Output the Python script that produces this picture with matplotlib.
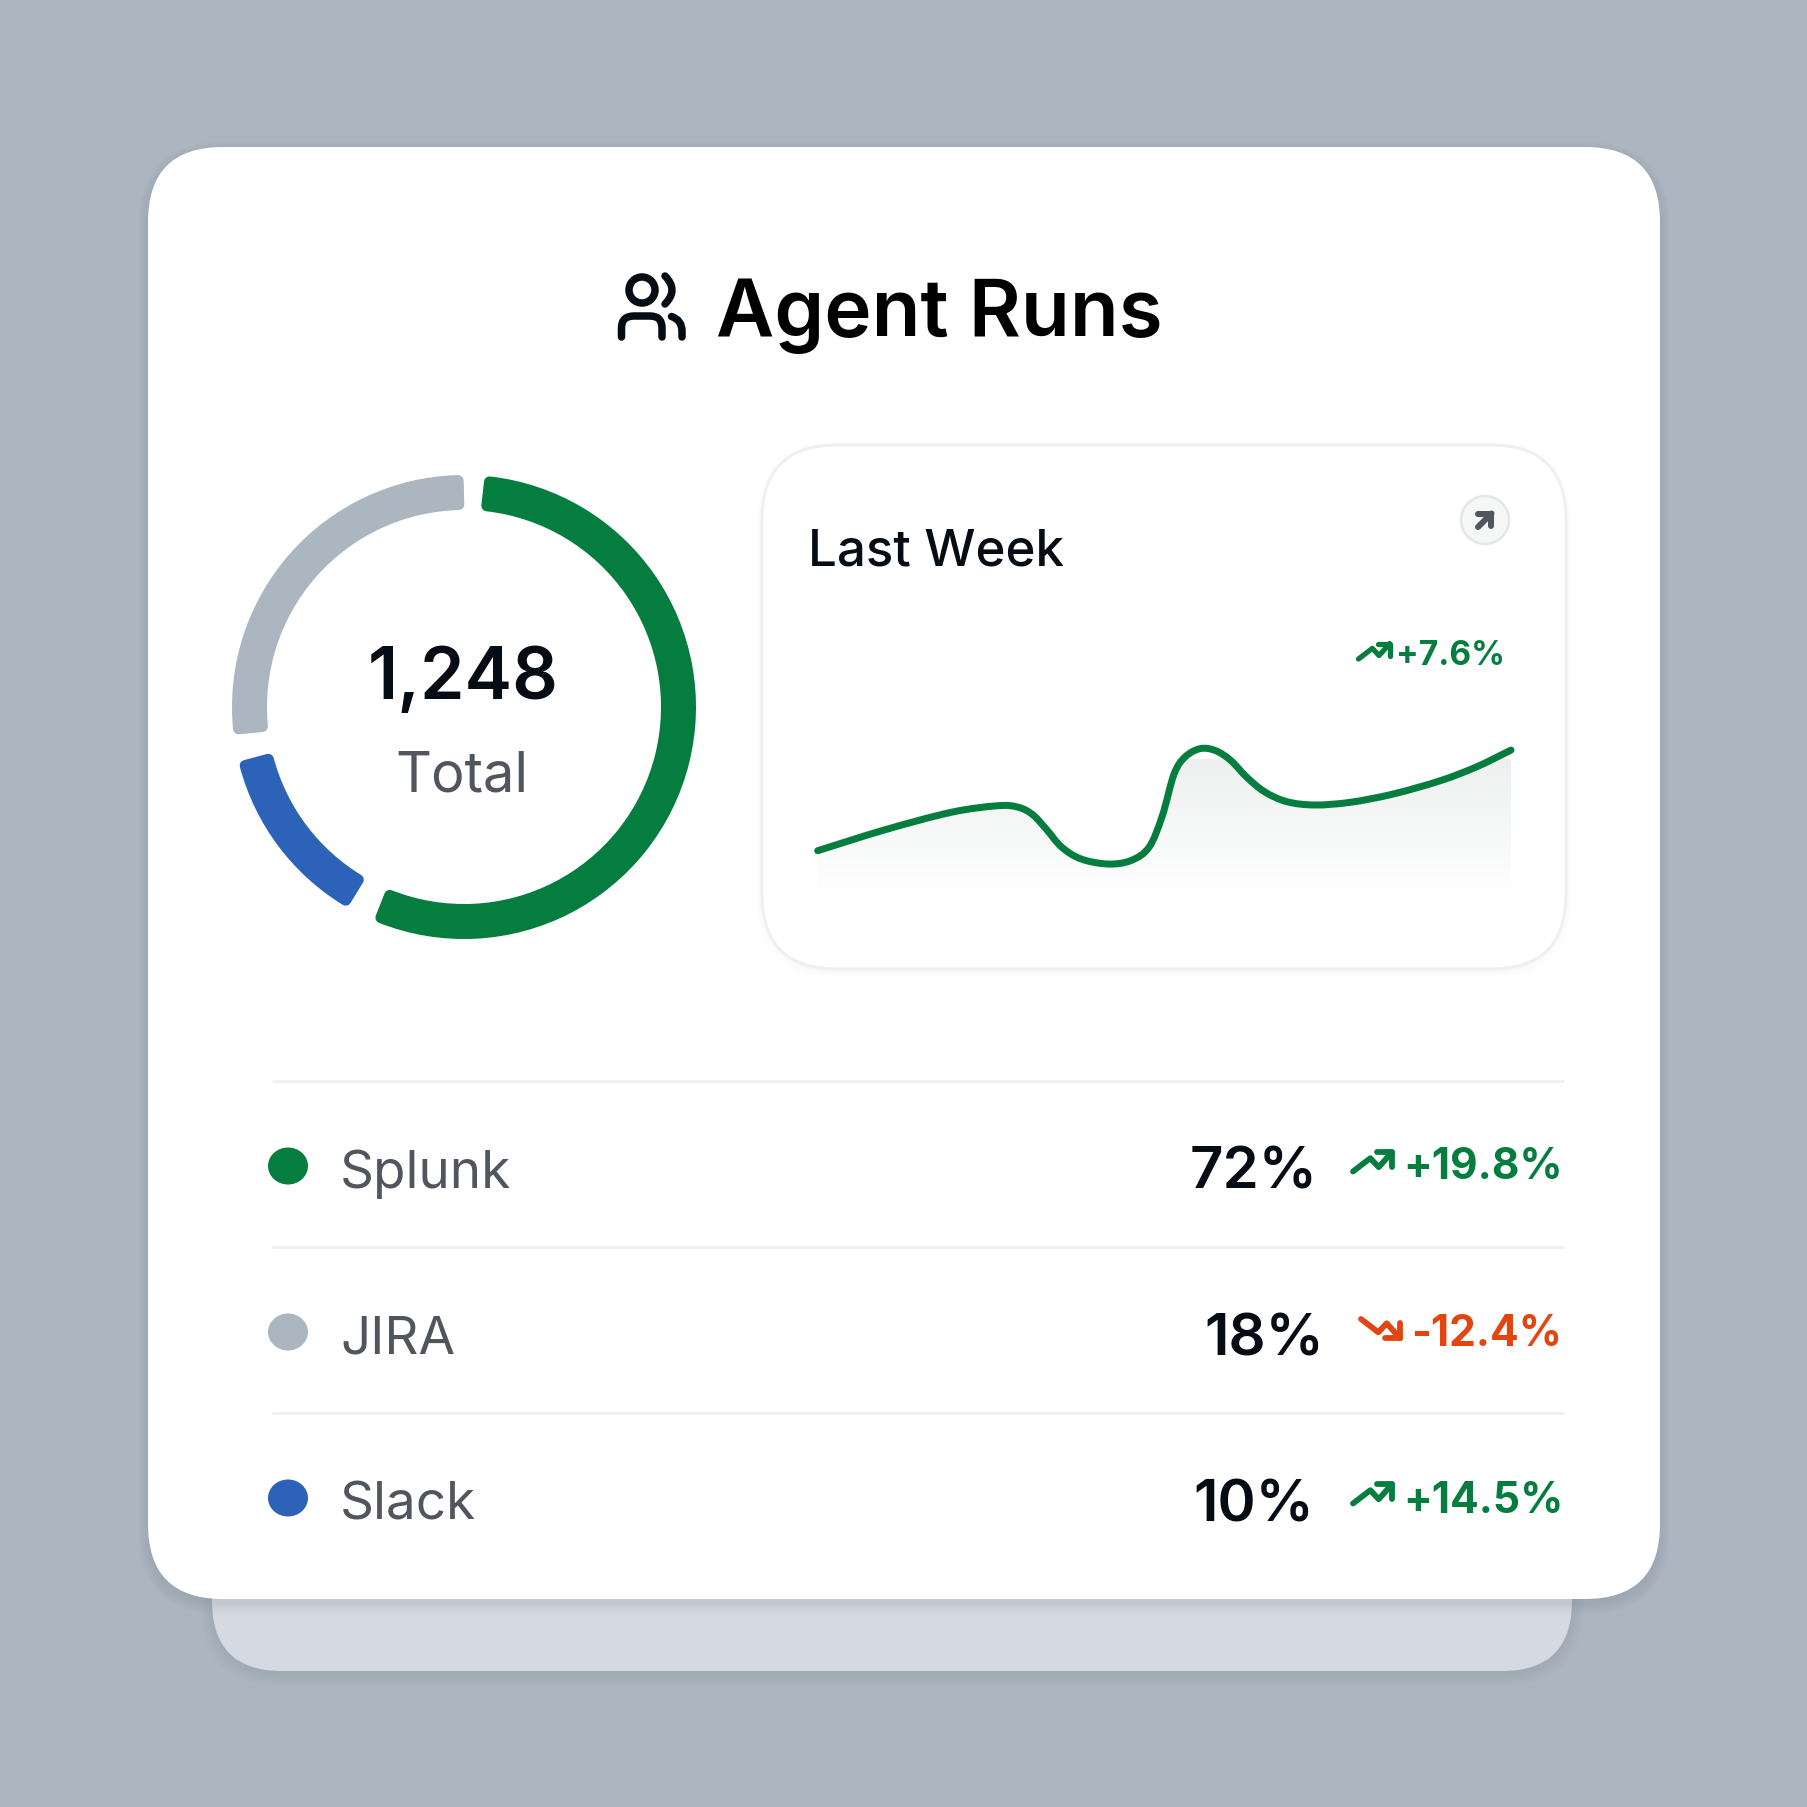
#!/usr/bin/env python3
"""Agent Runs card: donut, last-week sparkline and a small share table."""
import matplotlib
matplotlib.use("Agg")
import matplotlib.pyplot as plt
import numpy as np
from matplotlib.patches import Circle, Ellipse, FancyBboxPatch, PathPatch, Wedge
from matplotlib.path import Path

plt.rcParams["font.family"] = ["Inter", "DejaVu Sans"]

TITLE = "Agent Runs"
TOTAL_LABEL = "1,248"
TOTAL_CAPTION = "Total"
SPARK_TITLE = "Last Week"
SPARK_DELTA = "+7.6%"

# ring arcs, degrees clockwise from 12 o'clock, as drawn in the picture
RING_NAMES = ["Splunk", "Slack", "JIRA"]
RING_START = [5, 210, 263]
RING_SWEEP = [198, 46.5, 97]

CATEGORIES = ["Splunk", "JIRA", "Slack"]
SHARES = [72, 18, 10]
DELTAS = [19.8, -12.4, 14.5]

SPARK_X = [0, 9.6, 19.3, 26.0, 28.9, 31.0, 33.0, 35.2, 38.0, 41.9, 45.2, 47.8, 49.7, 51.4,
           53.0, 55.2, 57.4, 59.6, 61.9, 64.5, 67.7, 71.7, 76.8, 83.0, 89.8, 95.1, 100]
SPARK_Y = [30.6, 44.6, 56.6, 61.0, 60.0, 55.0, 45.0, 33.0, 25.0, 21.6, 24.0, 33.0, 54.1, 82.4,
           94.0, 99.6, 98.2, 91.5, 80.2, 70.3, 63.7, 61.5, 63.3, 68.9, 77.9, 87.4, 98.6]

GREEN = "#047d3f"
GREY = "#acb6c0"
BLUE = "#2d62b9"
RED = "#e2450f"
INK = "#050c14"
MUTED = "#51565e"
RING_COLOR = {"Splunk": GREEN, "JIRA": GREY, "Slack": BLUE}

SIZE = 1808
PX = 72 / 100  # points per pixel at dpi=100


def card(ax, x0, y0, x1, y1, r, **kw):
    p = FancyBboxPatch((x0, y0), x1 - x0, y1 - y0,
                       boxstyle=f"round,pad=0,rounding_size={r}", **kw)
    ax.add_patch(p)
    return p


def soft_shadow(ax, x0, y0, x1, y1, r, drop, spread, alpha):
    for grow in np.linspace(0, spread, 6):
        card(ax, x0 - grow, y0 - grow + drop, x1 + grow, y1 + grow + drop, r + grow,
             fc="#25323c", ec="none", alpha=alpha)


def stroke(ax, pts, color, lw):
    xs, ys = zip(*pts)
    ax.plot(xs, ys, color=color, lw=lw * PX, solid_capstyle="round", solid_joinstyle="round")


def trend_icon(ax, x, y, up, color, scale=1.0, lw=5.8):
    sgn = -1 if up else 1
    line = [(0, 0), (17.3, 13.3), (25.7, 4.3), (39, 19.3)]
    head = [(24.3, 19.3), (39, 19.3), (39, 4.3)]
    stroke(ax, [(x + scale * a, y + sgn * scale * b) for a, b in line], color, lw)
    stroke(ax, [(x + scale * a, y + sgn * scale * b) for a, b in head], color, lw)


def people_icon(ax):
    ax.add_patch(Circle((642, 291), 13, fc="none", ec=INK, lw=7.5 * PX))
    shapes = [
        ([(621.5, 338), (621.5, 329), (621.5, 317), (634, 317), (650, 317),
          (662, 317), (662, 329), (662, 338)],
         [Path.MOVETO, Path.LINETO, Path.CURVE3, Path.CURVE3, Path.LINETO,
          Path.CURVE3, Path.CURVE3, Path.LINETO]),
        ([(665, 277), (679, 291), (665, 305)], [Path.MOVETO, Path.CURVE3, Path.CURVE3]),
        ([(671.5, 317.5), (682, 321), (682, 332), (682, 338)],
         [Path.MOVETO, Path.CURVE3, Path.CURVE3, Path.LINETO]),
    ]
    for verts, codes in shapes:
        ax.add_patch(PathPatch(Path(verts, codes), fc="none", ec=INK, lw=7.5 * PX,
                               capstyle="round", joinstyle="round"))


def smooth_path(xs, ys):
    # Catmull-Rom through the read points, handed to matplotlib as bezier segments
    pts = np.column_stack([xs, ys])
    verts = [pts[0]]
    codes = [Path.MOVETO]
    for i in range(len(pts) - 1):
        p0 = pts[max(i - 1, 0)]
        p1, p2 = pts[i], pts[i + 1]
        p3 = pts[min(i + 2, len(pts) - 1)]
        verts += [p1 + (p2 - p0) / 6, p2 - (p3 - p1) / 6, p2]
        codes += [Path.CURVE4] * 3
    return np.array(verts), codes


def main():
    fig = plt.figure(figsize=(SIZE / 100, SIZE / 100), dpi=100, facecolor=GREY)
    ax = fig.add_axes([0, 0, 1, 1])
    ax.set_xlim(0, SIZE)
    ax.set_ylim(SIZE, 0)
    ax.axis("off")

    # stacked cards
    soft_shadow(ax, 212, 1500, 1572, 1672, 70, 3, 12, 0.010)
    card(ax, 212, 1500, 1572, 1672, 70, fc="#d5dae2", ec="none")
    soft_shadow(ax, 148, 148, 1660, 1600, 75, 5, 10, 0.015)
    card(ax, 148, 148, 1660, 1600, 75, fc="white", ec="none")

    # title
    people_icon(ax)
    ax.text(716, 336, TITLE, fontsize=80 * PX, fontweight="semibold", color="#000000",
            ha="left", va="baseline")

    # donut
    cx, cy, r_out, width, corner = 464, 708, 232, 35, 5.5
    for name, start, sweep in zip(RING_NAMES, RING_START, RING_SWEEP):
        inset = np.degrees(corner / (r_out - width / 2))
        ax.add_patch(Wedge((cx, cy), r_out - corner,
                           start - 90 + inset, start + sweep - 90 - inset,
                           width=width - 2 * corner, fc=RING_COLOR[name], ec=RING_COLOR[name],
                           lw=2 * corner * PX, joinstyle="round"))
    ax.text(463.5, 699, TOTAL_LABEL, fontsize=71.5 * PX, fontweight="semibold", color=INK,
            ha="center", va="baseline")
    ax.text(462, 792, TOTAL_CAPTION, fontsize=56 * PX, color=MUTED, ha="center", va="baseline")

    # sparkline card
    soft_shadow(ax, 762, 446, 1566, 970, 75, 3, 6, 0.004)
    card(ax, 762, 446, 1566, 970, 75, fc="white", ec="#eff0f1", lw=3 * PX)
    ax.text(808, 566, SPARK_TITLE, fontsize=51 * PX, fontweight="medium", color=INK,
            ha="left", va="baseline")
    ax.add_patch(Circle((1485, 521), 24, fc="#f5f6f6", ec="#e4e6e8", lw=2.5 * PX))
    stroke(ax, [(1478, 528), (1491.5, 514.5)], MUTED, 6)
    stroke(ax, [(1478.5, 514.5), (1491.5, 514.5), (1491.5, 527)], MUTED, 6)
    trend_icon(ax, 1358.5, 660, True, GREEN, scale=0.8, lw=5.2)
    ax.text(1451, 665.5, SPARK_DELTA, fontsize=33.5 * PX, fontweight="bold", color=GREEN,
            ha="center", va="baseline")

    sp = fig.add_axes([817.7 / SIZE, (SIZE - 897) / SIZE, 693.3 / SIZE, 148 / SIZE])
    sp.axis("off")
    sp.patch.set_alpha(0)
    # gradient under the line, faded to white at the axis floor
    top = np.array([0xee, 0xf0, 0xf0]) / 255
    fade = np.linspace(0, 1, 128)[:, None, None]
    grad = top + (1 - top) * fade
    img = sp.imshow(grad, extent=(0, 100, 0, 92), origin="upper", aspect="auto", zorder=1)
    sp.set_xlim(0, 100)
    sp.set_ylim(0, 100)
    curve, curve_codes = smooth_path(SPARK_X, SPARK_Y)
    verts = np.vstack([curve, [(100, 0), (0, 0), curve[0]]])
    codes = curve_codes + [Path.LINETO, Path.LINETO, Path.CLOSEPOLY]
    img.set_clip_path(PathPatch(Path(verts, codes), transform=sp.transData))
    sp.add_patch(PathPatch(Path(curve, curve_codes), fc="none", ec=GREEN, lw=7 * PX,
                           capstyle="round", joinstyle="round", clip_on=False, zorder=2))

    # table rows
    for y in (1082, 1248, 1414):
        ax.plot([272, 1564], [y, y], color="#f0f1f2", lw=3 * PX, solid_capstyle="butt")
    for i, (name, share, delta) in enumerate(zip(CATEGORIES, SHARES, DELTAS)):
        base = 1188 + 166 * i
        ax.add_patch(Ellipse((288, base - 21), 40, 37, fc=RING_COLOR[name], ec="none"))
        ax.text(340, base, name, fontsize=53 * PX, color=MUTED, ha="left", va="baseline")
        up = delta > 0
        color = GREEN if up else RED
        ax.text(1254 if up else 1264, 1189 + 166.5 * i, f"{share}%", fontsize=58 * PX,
                fontweight="semibold", color=INK, ha="center", va="baseline")
        sign = "+" if up else "-"
        ax.text(1483.5 if up else 1487, 1179 + 167 * i, f"{sign}{abs(delta):.1f}%", fontsize=42.5 * PX,
                fontweight="bold", color=color, ha="center", va="baseline")
        if up:
            trend_icon(ax, 1353, base - 15.5, True, color)
        else:
            trend_icon(ax, 1361, base - 34, False, color)

    fig.savefig("out.png", dpi=100, facecolor=fig.get_facecolor())


if __name__ == "__main__":
    main()
